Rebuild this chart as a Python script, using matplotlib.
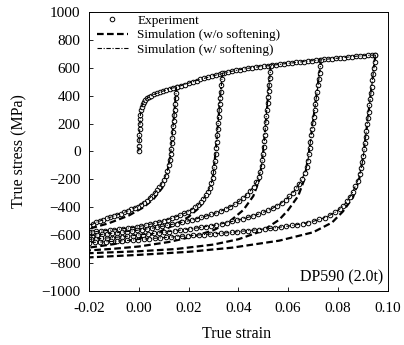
import matplotlib.pyplot as plt
import numpy as np

plt.rcParams['font.family'] = ['Liberation Serif', 'DejaVu Serif']

# Tension loading path (shared by all series)
tension_strain = [0.0000, 0.0001, 0.0002, 0.0003, 0.0004, 0.0005, 0.0006, 0.0007, 0.0009, 0.0012,
                  0.0016, 0.0021, 0.0027, 0.0034, 0.0042, 0.0051, 0.0061, 0.0072, 0.0084, 0.0097,
                  0.0110, 0.0124, 0.0138, 0.0152, 0.0168, 0.0184, 0.0200, 0.0216, 0.0232, 0.0248,
                  0.0264, 0.0280, 0.0296, 0.0312, 0.0328, 0.0344, 0.0360, 0.0376, 0.0392, 0.0408,
                  0.0424, 0.0440, 0.0456, 0.0472, 0.0488, 0.0504, 0.0520, 0.0536, 0.0552, 0.0568,
                  0.0584, 0.0600, 0.0616, 0.0632, 0.0648, 0.0664, 0.0680, 0.0696, 0.0712, 0.0728,
                  0.0744, 0.0760, 0.0776, 0.0792, 0.0808, 0.0824, 0.0840, 0.0856, 0.0872, 0.0888,
                  0.0904, 0.0920, 0.0936, 0.0950]
tension_stress = [0, 40, 80, 120, 160, 200, 235, 265, 295, 320,
                  340, 356, 370, 382, 392, 401, 409, 417, 425, 433,
                  441, 450, 456, 462, 471, 480, 490, 499, 508, 517,
                  525, 533, 541, 549, 557, 564, 570, 576, 582, 587,
                  592, 597, 601, 605, 609, 612, 615, 619, 622, 625,
                  629, 632, 635, 639, 642, 645, 648, 651, 654, 657,
                  660, 663, 666, 668, 671, 674, 677, 680, 683, 685,
                  687, 689, 691, 692]

# Experiment: reverse (compression) branches after each prestrain
exp_b1_strain = [0.0152, 0.0150, 0.0148, 0.0146, 0.0144, 0.0142, 0.0140, 0.0138, 0.0136, 0.0134,
                 0.0132, 0.0130, 0.0128, 0.0125, 0.0120, 0.0115, 0.0108, 0.0100, 0.0092, 0.0083,
                 0.0074, 0.0064, 0.0054, 0.0044, 0.0032, 0.0020, 0.0008, -0.0004, -0.0016, -0.0030,
                 -0.0044, -0.0058, -0.0072, -0.0086, -0.0100, -0.0114, -0.0128, -0.0142, -0.0156,
                 -0.0170, -0.0185, -0.0200]
exp_b1_stress = [462, 420, 380, 340, 300, 260, 220, 180, 140, 100,
                 60, 20, -20, -60, -100, -140, -175, -205, -232, -258,
                 -280, -300, -318, -334, -352, -368, -382, -395, -405, -416,
                 -427, -437, -446, -455, -463, -472, -481, -490, -499,
                 -508, -522, -535]

exp_b2_strain = [0.0336, 0.0334, 0.0332, 0.0330, 0.0327, 0.0325, 0.0323, 0.0321, 0.0319, 0.0317,
                 0.0315, 0.0313, 0.0311, 0.0309, 0.0306, 0.0303, 0.0300, 0.0297, 0.0292, 0.0285,
                 0.0277, 0.0269, 0.0260, 0.0250, 0.0239, 0.0227, 0.0213, 0.0198, 0.0183, 0.0167,
                 0.0151, 0.0134, 0.0117, 0.0100, 0.0082, 0.0064, 0.0046, 0.0028, 0.0010, -0.0008,
                 -0.0026, -0.0044, -0.0062, -0.0080, -0.0098, -0.0116, -0.0134, -0.0152, -0.0170,
                 -0.0188, -0.0200]
exp_b2_stress = [565, 520, 475, 430, 385, 340, 295, 250, 205, 160,
                 115, 70, 25, -20, -65, -110, -150, -190, -225, -260,
                 -290, -315, -340, -362, -382, -400, -417, -432, -445, -457,
                 -468, -479, -489, -498, -507, -515, -522, -529, -535, -541,
                 -546, -550, -554, -558, -562, -565, -568, -571, -574,
                 -577, -579]

exp_b3_strain = [0.0530, 0.0528, 0.0526, 0.0524, 0.0521, 0.0519, 0.0517, 0.0514, 0.0512, 0.0510,
                 0.0508, 0.0506, 0.0504, 0.0501, 0.0499, 0.0496, 0.0493, 0.0488, 0.0481, 0.0472,
                 0.0461, 0.0448, 0.0434, 0.0419, 0.0403, 0.0386, 0.0368, 0.0350, 0.0331, 0.0312,
                 0.0292, 0.0272, 0.0252, 0.0232, 0.0212, 0.0192, 0.0172, 0.0152, 0.0132, 0.0112,
                 0.0092, 0.0072, 0.0052, 0.0032, 0.0012, -0.0008, -0.0028, -0.0048, -0.0068,
                 -0.0088, -0.0108, -0.0128, -0.0148, -0.0168, -0.0188, -0.0200]
exp_b3_stress = [615, 570, 525, 480, 435, 390, 345, 300, 255, 210,
                 165, 120, 75, 30, -15, -60, -105, -145, -185, -220,
                 -252, -282, -310, -335, -358, -378, -396, -412, -427, -440,
                 -452, -463, -473, -483, -492, -501, -509, -517, -524, -531,
                 -538, -545, -551, -556, -561, -566, -571, -575, -579,
                 -583, -587, -591, -595, -599, -603, -605]

exp_b4_strain = [0.0732, 0.0729, 0.0726, 0.0723, 0.0720, 0.0716, 0.0713, 0.0709, 0.0706, 0.0702,
                 0.0699, 0.0695, 0.0692, 0.0689, 0.0686, 0.0683, 0.0679, 0.0674, 0.0666, 0.0656,
                 0.0645, 0.0633, 0.0619, 0.0605, 0.0590, 0.0574, 0.0557, 0.0539, 0.0520, 0.0500,
                 0.0480, 0.0459, 0.0438, 0.0417, 0.0396, 0.0375, 0.0354, 0.0333, 0.0312, 0.0291,
                 0.0270, 0.0249, 0.0228, 0.0207, 0.0186, 0.0165, 0.0144, 0.0123, 0.0102, 0.0081,
                 0.0060, 0.0039, 0.0018, -0.0003, -0.0024, -0.0045, -0.0066, -0.0087, -0.0108,
                 -0.0129, -0.0150, -0.0171, -0.0192, -0.0200]
exp_b4_stress = [656, 610, 565, 520, 475, 430, 385, 340, 295, 250,
                 205, 160, 115, 70, 25, -20, -65, -110, -155, -195,
                 -232, -265, -295, -322, -346, -368, -388, -406, -422, -437,
                 -450, -462, -473, -483, -493, -502, -511, -519, -527, -533,
                 -539, -545, -550, -555, -560, -565, -570, -575, -580, -584,
                 -588, -592, -596, -600, -604, -608, -612, -615, -618,
                 -621, -624, -627, -630, -631]

exp_b5_strain = [0.0950, 0.0947, 0.0944, 0.0941, 0.0938, 0.0935, 0.0932, 0.0929, 0.0926, 0.0923,
                 0.0920, 0.0917, 0.0914, 0.0911, 0.0908, 0.0905, 0.0902, 0.0898, 0.0893, 0.0887,
                 0.0879, 0.0869, 0.0859, 0.0848, 0.0836, 0.0822, 0.0806, 0.0788, 0.0768, 0.0747,
                 0.0725, 0.0703, 0.0681, 0.0659, 0.0637, 0.0615, 0.0593, 0.0571, 0.0549, 0.0527,
                 0.0505, 0.0483, 0.0461, 0.0439, 0.0417, 0.0395, 0.0373, 0.0351, 0.0329, 0.0307,
                 0.0285, 0.0263, 0.0241, 0.0219, 0.0197, 0.0175, 0.0153, 0.0131, 0.0109, 0.0087,
                 0.0065, 0.0043, 0.0021, -0.0001, -0.0023, -0.0045, -0.0067, -0.0089, -0.0111,
                 -0.0133, -0.0155, -0.0177, -0.0200]
exp_b5_stress = [692, 645, 600, 555, 510, 465, 420, 375, 330, 285,
                 240, 195, 150, 105, 60, 15, -30, -75, -120, -165,
                 -210, -250, -290, -325, -358, -388, -414, -437, -457, -474,
                 -488, -500, -510, -518, -525, -531, -537, -542, -547, -552,
                 -556, -560, -564, -568, -572, -576, -580, -584, -587, -590,
                 -593, -596, -599, -602, -605, -608, -611, -614, -617, -620,
                 -623, -626, -629, -632, -635, -638, -641, -644, -646,
                 -648, -650, -652, -654]

# Simulation without softening
sim_b1_strain = [0.0152, 0.0130, 0.0115, 0.0095, 0.0060, 0.0020, -0.0040, -0.0120, -0.0200]
sim_b1_stress = [462, 0, -150, -260, -340, -400, -460, -515, -555]
sim_b2_strain = [0.0336, 0.0309, 0.0296, 0.0275, 0.0245, 0.0200, 0.0140, 0.0080, 0.0000, -0.0100, -0.0200]
sim_b2_stress = [565, 0, -209, -320, -400, -470, -530, -580, -625, -665, -690]
sim_b3_strain = [0.0530, 0.0500, 0.0485, 0.0460, 0.0420, 0.0360, 0.0300, 0.0220, 0.0120, 0.0000, -0.0100, -0.0200]
sim_b3_stress = [615, 0, -200, -320, -420, -510, -565, -610, -650, -682, -698, -710]
sim_b4_strain = [0.0732, 0.0684, 0.0665, 0.0640, 0.0600, 0.0564, 0.0496, 0.0400, 0.0300, 0.0150, 0.0000, -0.0200]
sim_b4_stress = [656, 0, -200, -320, -420, -490, -570, -630, -668, -700, -716, -730]
sim_b5_strain = [0.0950, 0.0904, 0.0885, 0.0860, 0.0820, 0.0776, 0.0700, 0.0564, 0.0376, 0.0200, 0.0000, -0.0200]
sim_b5_stress = [692, 0, -200, -330, -430, -510, -580, -640, -690, -720, -742, -760]

exp_branches = [(exp_b1_strain, exp_b1_stress), (exp_b2_strain, exp_b2_stress),
                (exp_b3_strain, exp_b3_stress), (exp_b4_strain, exp_b4_stress),
                (exp_b5_strain, exp_b5_stress)]
sim_branches = [(sim_b1_strain, sim_b1_stress), (sim_b2_strain, sim_b2_stress),
                (sim_b3_strain, sim_b3_stress), (sim_b4_strain, sim_b4_stress),
                (sim_b5_strain, sim_b5_stress)]

fig = plt.figure(figsize=(4.04, 3.45), dpi=100)
ax = fig.add_axes([0.220, 0.157, 0.740, 0.808])

# Simulation w/o softening (thick dashed)
ax.plot(tension_strain, tension_stress, color='black', lw=1.6, ls=(0, (3, 1.5)),
        label='Simulation (w/o softening)')
for s, p in sim_branches:
    ax.plot(s, p, color='black', lw=1.6, ls=(0, (3, 1.5)))

# Experiment (open circles)
ax.plot(tension_strain, tension_stress, 'o', ms=3.3, mfc='white', mec='black', mew=0.7,
        label='Experiment')
for s, p in exp_branches:
    ax.plot(s, p, 'o', ms=3.3, mfc='white', mec='black', mew=0.7)

# Simulation w/ softening (thin dash-dot), lies on the experimental data
ax.plot(tension_strain, tension_stress, color='black', lw=0.8, ls=(0, (4, 1.5, 1, 1.5)),
        label='Simulation (w/ softening)')
for s, p in exp_branches:
    ax.plot(s, p, color='black', lw=0.8, ls=(0, (4, 1.5, 1, 1.5)))

ax.set_xlim(-0.02, 0.10)
ax.set_ylim(-1000, 1000)
ax.set_xticks(np.arange(-0.02, 0.101, 0.02))
ax.set_xticklabels(['-0.02', '0.00', '0.02', '0.04', '0.06', '0.08', '0.10'])
ax.set_yticks(np.arange(-1000, 1001, 200))
ax.tick_params(direction='in', length=3, width=0.6, labelsize=11)
ax.tick_params(axis='y', pad=6)
ax.tick_params(axis='x', pad=8)
for sp in ax.spines.values():
    sp.set_linewidth(0.7)

ax.set_xlabel('True strain', fontsize=11.5)
ax.set_ylabel('True stress (MPa)', fontsize=11.5)
ax.xaxis.set_label_coords(0.495, -0.125)
ax.yaxis.set_label_coords(-0.205, 0.5)
ax.text(0.983, 0.05, 'DP590 (2.0t)', transform=ax.transAxes, ha='right', va='center', fontsize=11.5)

h, l = ax.get_legend_handles_labels()
order = [1, 0, 2]
ax.legend([h[i] for i in order], [l[i] for i in order], loc='upper left', bbox_to_anchor=(0.027, 0.99),
          frameon=False, fontsize=9.5, handlelength=2.35, handletextpad=0.7, labelspacing=0.15,
          borderpad=0, borderaxespad=0)

fig.savefig('out.png', dpi=100)
